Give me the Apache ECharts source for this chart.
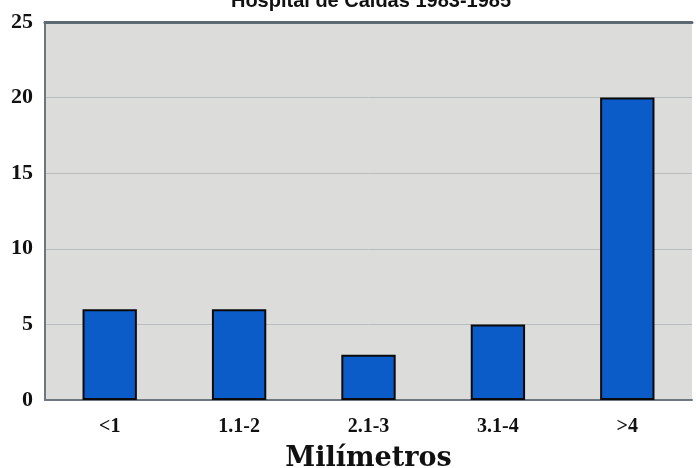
<!DOCTYPE html>
<html>
<head>
<meta charset="utf-8">
<script src="https://cdn.jsdelivr.net/npm/echarts@6/dist/echarts.min.js"></script>
<style>
  html, body { margin: 0; padding: 0; background: #fff; }
  #chart { width: 696px; height: 468px; }
</style>
</head>
<body>
<div id="chart"></div>
<script>
// datos
var categorias = ["<1", "1.1-2", "2.1-3", "3.1-4", ">4"];
var casos = [6, 6, 3, 5, 20];
var ticksY = [0, 5, 10, 15, 20, 25];

var chart = echarts.init(document.getElementById("chart"));
var option = {
    animation: false,
    title: {
        text: "Hospital de Caldas 1983-1985",
        left: 366,
        textAlign: "center",
        top: -14,
        textStyle: {
            fontFamily: "Liberation Sans",
            fontWeight: "bold",
            fontSize: 20,
            color: "#111"
        }
    },
    grid: {
        left: 45,
        right: 4,
        top: 22,
        bottom: 68,
        outerBoundsMode: "none",
        containLabel: false,
        show: true,
        backgroundColor: "#dcdddb",
        borderWidth: 0
    },
    xAxis: [
        {
            type: "category",
            data: categorias,
            name: "Milímetros",
            nameLocation: "middle",
            nameGap: 45,
            nameTextStyle: {
                fontFamily: "DejaVu Serif",
                fontWeight: "bold",
                fontSize: 27,
                color: "#111"
            },
            axisLine: { lineStyle: { color: "#6b7880", width: 2 } },
            axisTick: { show: false },
            axisLabel: {
                margin: 17,
                fontFamily: "Liberation Serif",
                fontWeight: "bold",
                fontSize: 20,
                color: "#111"
            }
        },
        {
            // borde superior del area
            type: "category",
            data: categorias,
            position: "top",
            axisLine: { lineStyle: { color: "#5d6a72", width: 3 } },
            axisTick: { show: false },
            axisLabel: { show: false }
        }
    ],
    yAxis: {
        type: "value",
        min: 0,
        max: 25,
        interval: 5,
        axisLine: { show: true, lineStyle: { color: "#6b7880", width: 2 } },
        axisTick: { show: false },
        splitLine: { lineStyle: { color: "#b9bdbd", width: 1 } },
        axisLabel: {
            margin: 12,
            fontFamily: "Liberation Serif",
            fontWeight: "bold",
            fontSize: 22,
            color: "#111",
            formatter: function (v) { return ticksY.indexOf(v) >= 0 ? String(v) : ""; }
        }
    },
    series: [
        {
            type: "bar",
            data: casos,
            barWidth: "42%",
            itemStyle: {
                color: "#0b5cc9",
                borderColor: "#0a0a0a",
                borderWidth: 2
            }
        }
    ]
};
chart.setOption(option);
</script>
</body>
</html>
